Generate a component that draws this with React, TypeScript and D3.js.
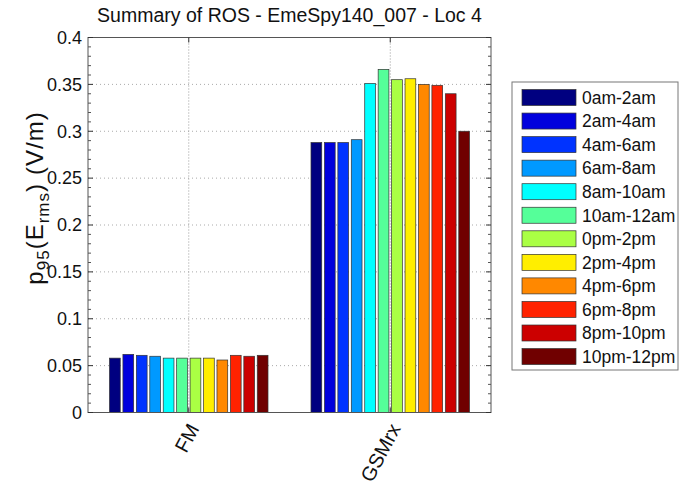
import React from "react";
import * as d3 from "d3";

const categories = ["FM", "GSMrx"];
const seriesNames = [
  "0am-2am", "2am-4am", "4am-6am", "6am-8am", "8am-10am", "10am-12am",
  "0pm-2pm", "2pm-4pm", "4pm-6pm", "6pm-8pm", "8pm-10pm", "10pm-12pm",
];
const fmValues = [0.058, 0.062, 0.061, 0.060, 0.058, 0.058, 0.058, 0.058, 0.056, 0.061, 0.060, 0.061];
const gsmValues = [0.288, 0.288, 0.288, 0.291, 0.351, 0.366, 0.355, 0.356, 0.350, 0.349, 0.340, 0.300];
const seriesColors = [
  "#000080", "#0000DD", "#0033FF", "#0099FF", "#00FFFF", "#55FF99",
  "#AAFF44", "#FFEE00", "#FF8800", "#FF2200", "#CC0000", "#700000",
];
const yTicks = [0, 0.05, 0.1, 0.15, 0.2, 0.25, 0.3, 0.35, 0.4];
const titleText = "Summary of ROS - EmeSpy140_007 - Loc 4";

const FONT = "'Liberation Sans', Arial, sans-serif";

export default function App() {
  const W = 680, H = 495;
  const left = 88, right = 491, top = 37.5, bottom = 412.5;
  const x = d3.scaleLinear().domain([0.5, 2.5]).range([left, right]);
  const y = d3.scaleLinear().domain([0, 0.4]).range([bottom, top]);
  const data = [fmValues, gsmValues];
  const nS = seriesNames.length;
  const groupW = 0.8;
  const slot = groupW / nS;
  const barW = slot * 0.8;
  const minorTicks = d3.range(0, 0.4001, 0.01).filter((v) => Math.abs((v / 0.05) - Math.round(v / 0.05)) > 1e-6);

  const legX = 512, legY = 82, legW = 166, legH = 288;
  const rowH = 23.55;

  return (
    <svg width={W} height={H} style={{ position: "absolute", left: 0, top: 0, background: "#fff" }}>
      <rect x={0} y={0} width={W} height={H} fill="#fff" />
      {/* grid */}
      {yTicks.filter((t) => t > 0 && t < 0.4).map((t) => (
        <line key={"gy" + t} x1={left} x2={right} y1={y(t)} y2={y(t)} stroke="#aaa" strokeWidth={1} strokeDasharray="1,3" />
      ))}
      {categories.map((c, i) => (
        <line key={"gx" + c} x1={x(i + 1)} x2={x(i + 1)} y1={top} y2={bottom} stroke="#999" strokeWidth={1} strokeDasharray="1,2" />
      ))}
      {/* bars */}
      {data.map((vals, ci) =>
        vals.map((v, si) => {
          const x0 = x(ci + 1 - groupW / 2 + si * slot + (slot - barW) / 2);
          const x1 = x(ci + 1 - groupW / 2 + si * slot + (slot + barW) / 2);
          return (
            <rect key={ci + "-" + si} x={x0} y={y(v)} width={x1 - x0} height={y(0) - y(v)}
              fill={seriesColors[si]} stroke="#333" strokeWidth={0.7} />
          );
        })
      )}
      {/* frame */}
      <rect x={left} y={top} width={right - left} height={bottom - top} fill="none" stroke="#555" strokeWidth={1} />
      {/* y ticks */}
      {yTicks.map((t) => (
        <g key={"yt" + t}>
          <line x1={left} x2={left + 5} y1={y(t)} y2={y(t)} stroke="#333" />
          <line x1={right} x2={right - 5} y1={y(t)} y2={y(t)} stroke="#333" />
          <text x={left - 6} y={y(t)} dy="0.35em" textAnchor="end" fontFamily={FONT} fontSize={18} fill="#111">{String(t)}</text>
        </g>
      ))}
      {minorTicks.map((t) => (
        <g key={"mt" + t}>
          <line x1={left} x2={left + 3} y1={y(t)} y2={y(t)} stroke="#555" />
          <line x1={right} x2={right - 3} y1={y(t)} y2={y(t)} stroke="#555" />
        </g>
      ))}
      {/* x ticks & labels */}
      {categories.map((c, i) => (
        <g key={"xt" + c}>
          <line x1={x(i + 1)} x2={x(i + 1)} y1={bottom} y2={bottom - 5} stroke="#333" />
          <line x1={x(i + 1)} x2={x(i + 1)} y1={top} y2={top + 5} stroke="#333" />
          <text transform={`translate(${x(i + 1) + 11},${bottom + 16}) rotate(-62)`} textAnchor="end"
            fontFamily={FONT} fontSize={20} fill="#111">{c}</text>
        </g>
      ))}
      {/* title */}
      <text x={(left + right) / 2} y={22} textAnchor="middle" fontFamily={FONT} fontSize={19.5} fill="#111">{titleText}</text>
      {/* y label */}
      <text transform={`translate(43,198) rotate(-90)`} textAnchor="middle" fontFamily={FONT} fontSize={24} fill="#111" letterSpacing={1}>
        <tspan>p</tspan>
        <tspan fontSize={17} dy={6}>95</tspan>
        <tspan dy={-6}>(E</tspan>
        <tspan fontSize={17} dy={6}>rms</tspan>
        <tspan dy={-6}>)</tspan>
        <tspan dx={8}>(V/m)</tspan>
      </text>
      {/* legend */}
      <rect x={legX} y={legY} width={legW} height={legH} fill="#fff" stroke="#777" strokeWidth={1} />
      {seriesNames.map((s, i) => {
        const cy = legY + 15.5 + i * rowH;
        return (
          <g key={"lg" + s}>
            <rect x={522} y={cy - 8} width={54} height={16} fill={seriesColors[i]} stroke="#333" strokeWidth={0.7} />
            <text x={582} y={cy} dy="0.36em" fontFamily={FONT} fontSize={17.5} fill="#111">{s}</text>
          </g>
        );
      })}
    </svg>
  );
}
